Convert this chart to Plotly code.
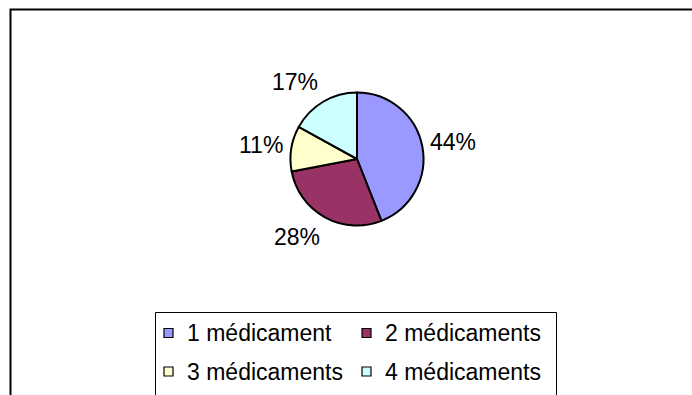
import math
import plotly.graph_objects as go

# Répartition des patients selon le nombre de médicaments
labels = ["1 médicament", "2 médicaments", "3 médicaments", "4 médicaments"]
values = [44, 28, 11, 17]
colors = ["#9999FF", "#993366", "#FFFFCC", "#CCFFFF"]

W, H = 692, 395
FONT = "Liberation Sans, Arial, Helvetica, sans-serif"
FSIZE = 23

# centre et rayon du camembert (en pixels)
cx, cy, r = 357, 159, 66.5


def px(x):
    return x / W


def py(y):
    return 1 - y / H


fig = go.Figure(
    go.Pie(
        labels=labels,
        values=values,
        sort=False,
        direction="clockwise",
        rotation=0,
        marker=dict(colors=colors, line=dict(color="black", width=2)),
        textinfo="none",
        hoverinfo="skip",
        showlegend=False,
        domain=dict(x=[px(cx - r), px(cx + r)], y=[py(cy + r), py(cy - r)]),
    )
)

# étiquettes de pourcentage à l'extérieur des parts
total = sum(values)
cum = 0
for v in values:
    theta = 2 * math.pi * (cum + v / 2) / total
    cum += v
    dx, dy = math.sin(theta), -math.cos(theta)
    ax = cx + (r + 6) * dx
    ay = cy + (r + 6) * dy
    fig.add_annotation(
        x=px(ax), y=py(ay), xref="paper", yref="paper",
        text=f"{round(100 * v / total)}%",
        showarrow=False,
        xanchor="left" if dx > 0 else "right",
        yanchor="middle",
        yshift=-dy * 17,
        font=dict(family=FONT, size=FSIZE, color="black"),
    )

# cadre extérieur du graphique
fig.add_shape(
    type="rect", xref="paper", yref="paper",
    x0=px(10.5), x1=1.05, y0=py(9.5), y1=-0.05,
    line=dict(color="black", width=2), fillcolor="rgba(0,0,0,0)",
)

# légende : cadre, carrés de couleur et libellés sur deux colonnes
fig.add_shape(
    type="rect", xref="paper", yref="paper",
    x0=px(155.5), x1=px(556.5), y0=py(312.5), y1=-0.05,
    line=dict(color="black", width=1), fillcolor="white",
)
col_x = [164, 362]
row_y = [333, 371.5]
sq = 9
for i, (lab, col) in enumerate(zip(labels, colors)):
    x0 = col_x[i % 2]
    yc = row_y[i // 2]
    fig.add_shape(
        type="rect", xref="paper", yref="paper",
        x0=px(x0), x1=px(x0 + sq), y0=py(yc + sq / 2), y1=py(yc - sq / 2),
        line=dict(color="black", width=1.2), fillcolor=col,
    )
    fig.add_annotation(
        x=px(x0 + sq + 12), y=py(yc), xref="paper", yref="paper",
        text=lab, showarrow=False, xanchor="left", yanchor="middle",
        font=dict(family=FONT, size=FSIZE, color="black"),
    )

fig.update_layout(
    width=W, height=H,
    margin=dict(l=0, r=0, t=0, b=0, autoexpand=False),
    paper_bgcolor="white",
    plot_bgcolor="white",
    font=dict(family=FONT, size=FSIZE, color="black"),
    showlegend=False,
)

fig.write_html("out.html")
